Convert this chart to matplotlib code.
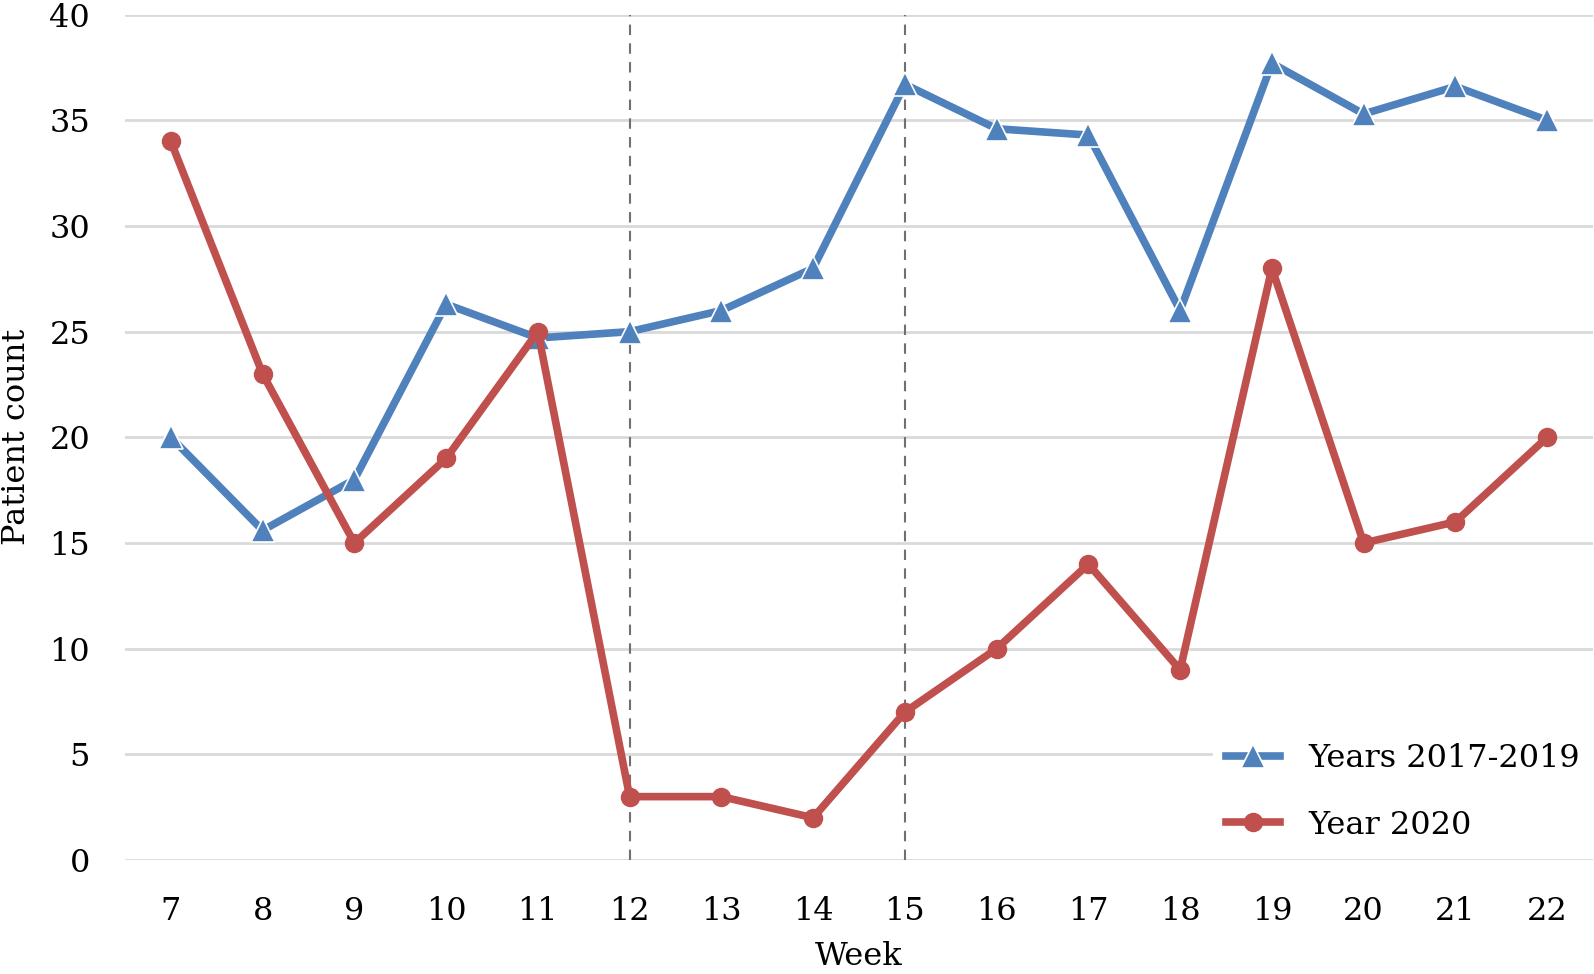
import matplotlib.pyplot as plt

# Weekly patient counts
weeks = [7, 8, 9, 10, 11, 12, 13, 14, 15, 16, 17, 18, 19, 20, 21, 22]
years_2017_2019 = [20, 15.6, 18, 26.3, 24.7, 25, 26, 28, 36.7, 34.6, 34.3, 26, 37.7, 35.3, 36.6, 35]
year_2020 = [34, 23, 15, 19, 25, 3, 3, 2, 7, 10, 14, 9, 28, 15, 16, 20]
marked_weeks = [12, 15]

plt.rcParams['font.family'] = ['DejaVu Serif']

fig = plt.figure(figsize=(15.94, 9.74), dpi=100)
ax = fig.add_axes([0.0784, 0.117, 0.921, 0.868])

ax.plot(weeks, years_2017_2019, color='#4F81BD', lw=5.5, marker='^', markersize=17,
        markeredgecolor='white', markeredgewidth=1.2, label='Years 2017-2019', zorder=3)
ax.plot(weeks, year_2020, color='#C0504D', lw=5.5, marker='o', markersize=13,
        markeredgecolor='#C0504D', label='Year 2020', zorder=3)

for w in marked_weeks:
    ax.axvline(w, color='#707070', lw=1.5, ls=(0, (5, 4)), zorder=2)

ax.set_xlim(6.5, 22.5)
ax.set_ylim(0, 40)
ax.set_xticks(weeks)
ax.set_yticks(range(0, 41, 5))
ax.yaxis.grid(True, color='#D9D9D9', lw=2)
ax.set_axisbelow(True)
for s in ax.spines.values():
    s.set_visible(False)
ax.tick_params(length=0, labelsize=23)
ax.tick_params(axis='x', pad=26)
ax.tick_params(axis='y', pad=25)

ax.set_xlabel('Week', fontsize=23, labelpad=10)
ax.set_ylabel('Patient count', fontsize=23)
ax.yaxis.set_label_coords(-0.0635, 0.5)

leg = ax.legend(loc='lower right', bbox_to_anchor=(1.0, 0.008), fontsize=23, frameon=True,
                framealpha=1, edgecolor='white', handlelength=1.7, handletextpad=0.9,
                labelspacing=1.1, borderaxespad=0.0, borderpad=0.4)

fig.savefig('out.png', dpi=100)
